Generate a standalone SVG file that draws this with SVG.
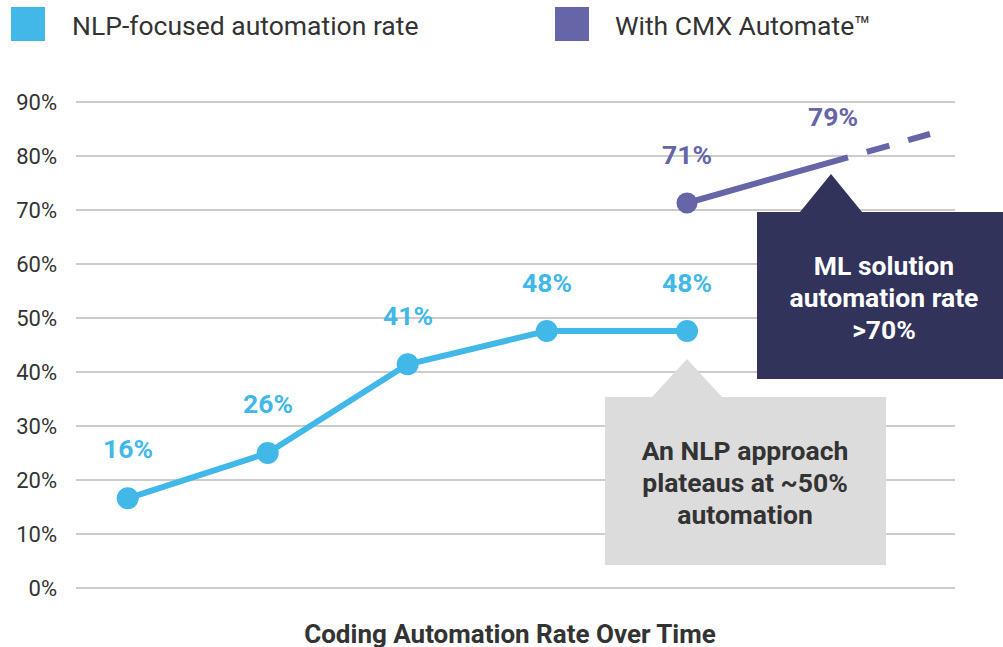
<svg xmlns="http://www.w3.org/2000/svg" width="1003" height="647" viewBox="0 0 1003 647">
<style>
.grid{stroke:#CCCCCC;stroke-width:2}
.ax{font-family:Roboto,"Liberation Sans",sans-serif;font-size:22px;fill:#333333;text-anchor:end}
.leg{font-family:Roboto,"Liberation Sans",sans-serif;font-size:26.5px;fill:#333333}
.dl{font-family:Roboto,"Liberation Sans",sans-serif;font-size:26.5px;font-weight:bold;text-anchor:middle}
.blue{fill:#41B8E8}
.purple{fill:#6565A8}
.box{font-family:Roboto,"Liberation Sans",sans-serif;font-size:26.5px;font-weight:bold;text-anchor:middle}
.title{font-family:Roboto,"Liberation Sans",sans-serif;font-size:26px;font-weight:bold;fill:#333333;text-anchor:middle}
</style>
<rect width="1003" height="647" fill="#FFFFFF"/>
<g id="legend">
<rect x="11" y="7" width="34" height="34" fill="#41B8E8"/>
<text class="leg" x="72" y="35">NLP-focused automation rate</text>
<rect x="555" y="7" width="34" height="34" fill="#6565A8"/>
<text class="leg" x="615" y="35">With CMX Automate™</text>
</g>
<g id="axis">
<line class="grid" x1="76" y1="102" x2="955" y2="102"/>
<line class="grid" x1="76" y1="156" x2="955" y2="156"/>
<line class="grid" x1="76" y1="210" x2="955" y2="210"/>
<line class="grid" x1="76" y1="264" x2="955" y2="264"/>
<line class="grid" x1="76" y1="318" x2="955" y2="318"/>
<line class="grid" x1="76" y1="372" x2="955" y2="372"/>
<line class="grid" x1="76" y1="426" x2="955" y2="426"/>
<line class="grid" x1="76" y1="480" x2="955" y2="480"/>
<line class="grid" x1="76" y1="534" x2="955" y2="534"/>
<line class="grid" x1="76" y1="588" x2="955" y2="588"/>
<text class="ax" x="57" y="110">90%</text>
<text class="ax" x="57" y="164">80%</text>
<text class="ax" x="57" y="218">70%</text>
<text class="ax" x="57" y="272">60%</text>
<text class="ax" x="57" y="326">50%</text>
<text class="ax" x="57" y="380">40%</text>
<text class="ax" x="57" y="434">30%</text>
<text class="ax" x="57" y="488">20%</text>
<text class="ax" x="57" y="542">10%</text>
<text class="ax" x="57" y="596">0%</text>
</g>
<g id="connectors">
<polyline points="127.7,498.3 267.7,453 407.7,364.3 546.7,331 687,331" fill="none" stroke="#41B8E8" stroke-width="6" stroke-linejoin="round"/>
<line x1="687" y1="203" x2="848" y2="157.3" stroke="#6565A8" stroke-width="6"/>
<line x1="848" y1="157.3" x2="930" y2="134" stroke="#6565A8" stroke-width="6" stroke-dasharray="0 19.5 23.5 19.5 24"/>
</g>
<g id="nlp-points">
<circle cx="127.7" cy="498.3" r="11" class="blue"/>
<circle cx="267.7" cy="453" r="11" class="blue"/>
<circle cx="407.7" cy="364.3" r="11" class="blue"/>
<circle cx="546.7" cy="331" r="11" class="blue"/>
<circle cx="687" cy="331" r="11" class="blue"/>
<text class="dl blue" x="128" y="458">16%</text>
<text class="dl blue" x="268" y="413">26%</text>
<text class="dl blue" x="408" y="325">41%</text>
<text class="dl blue" x="547" y="292">48%</text>
<text class="dl blue" x="687" y="292">48%</text>
</g>
<g id="cmx-points">
<circle cx="687" cy="203" r="10.5" class="purple"/>
<text class="dl purple" x="687" y="164">71%</text>
<text class="dl purple" x="833" y="126">79%</text>
</g>
<g id="ml-callout">
<polygon points="757,212 800,212 831,174 862,212 1003,212 1003,379 757,379" fill="#32335A"/>
<text class="box" x="884" y="275" fill="#FFFFFF">ML solution</text>
<text class="box" x="884" y="307" fill="#FFFFFF">automation rate</text>
<text class="box" x="884" y="339" fill="#FFFFFF">&gt;70%</text>
</g>
<g id="nlp-callout">
<polygon points="605,397 652,397 687,359 722,397 886,397 886,565 605,565" fill="#DCDCDC"/>
<text class="box" x="745" y="460" fill="#333333">An NLP approach</text>
<text class="box" x="745" y="492" fill="#333333">plateaus at ~50%</text>
<text class="box" x="745" y="524" fill="#333333">automation</text>
</g>
<g id="title">
<text class="title" x="510" y="643">Coding Automation Rate Over Time</text>
</g>
</svg>
